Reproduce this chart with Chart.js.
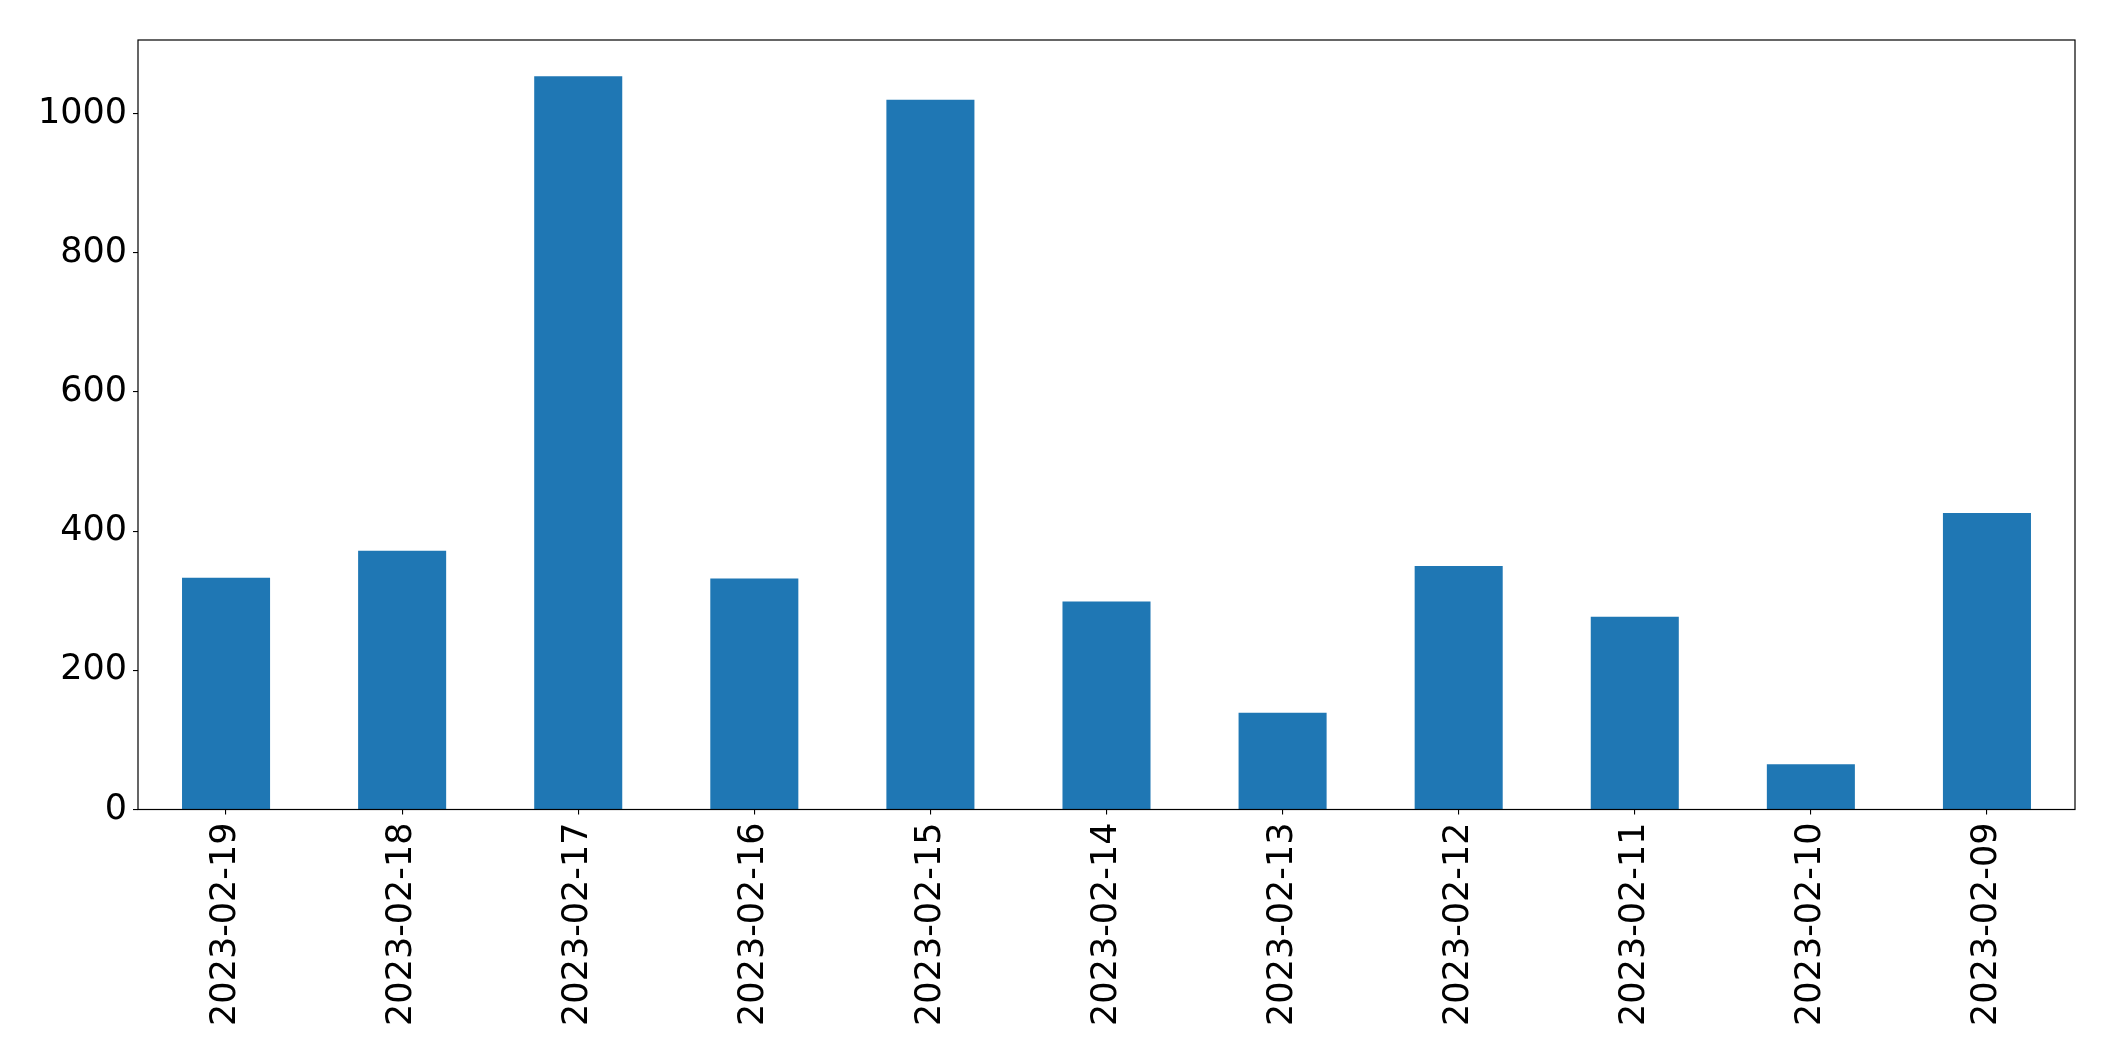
<!DOCTYPE html>
<html>
<head>
<meta charset="utf-8">
<script src="https://cdn.jsdelivr.net/npm/chart.js@4.4.1/dist/chart.umd.min.js"></script>
<style>
  html, body { margin: 0; padding: 0; background: #ffffff; }
  #wrap { width: 2115px; height: 1061px; }
</style>
</head>
<body>
<div id="wrap"><canvas id="c" width="2115" height="1061"></canvas></div>
<script>
const categories = ["2023-02-19","2023-02-18","2023-02-17","2023-02-16","2023-02-15","2023-02-14","2023-02-13","2023-02-12","2023-02-11","2023-02-10","2023-02-09"];
const values = [333, 372, 1054, 332, 1020, 299, 139, 350, 277, 65, 426];
const yTicks = [0, 200, 400, 600, 800, 1000];
const yMax = 1106;

const frame = {
  id: 'frame',
  afterDatasetsDraw(chart) {
    const a = chart.chartArea, ctx = chart.ctx;
    ctx.save();
    ctx.strokeStyle = '#000000';
    ctx.lineWidth = 1.2;
    ctx.strokeRect(a.left, a.top, a.right - a.left, a.bottom - a.top);
    ctx.restore();
  }
};

new Chart(document.getElementById('c'), {
  type: 'bar',
  data: {
    labels: categories,
    datasets: [{
      data: values,
      backgroundColor: '#1f77b4',
      borderWidth: 0,
      barPercentage: 0.5,
      categoryPercentage: 1.0
    }]
  },
  options: {
    responsive: false,
    devicePixelRatio: 1,
    animation: false,
    layout: { padding: { top: 40, right: 40, left: 0, bottom: 0 } },
    plugins: { legend: { display: false }, tooltip: { enabled: false } },
    scales: {
      x: {
        offset: true,
        grid: { display: true, drawOnChartArea: false, offset: false, tickLength: 5, color: '#000000', lineWidth: 1.1 },
        border: { display: false },
        ticks: {
          color: '#000000',
          font: { family: 'DejaVu Sans', size: 35 },
          minRotation: 90, maxRotation: 90,
          padding: 8,
          autoSkip: false
        },
        afterFit(s) { s.height = 251.5; }
      },
      y: {
        min: 0, max: yMax,
        grid: { display: true, drawOnChartArea: false, tickLength: 5, color: '#000000', lineWidth: 1.1 },
        border: { display: false },
        ticks: {
          color: '#000000',
          font: { family: 'DejaVu Sans', size: 35 },
          padding: 6,
          stepSize: 200,
          callback: (v) => String(v)
        },
        afterBuildTicks(s) { s.ticks = yTicks.map(v => ({ value: v })); },
        afterFit(s) { s.width = 138; }
      }
    }
  },
  plugins: [frame]
});
</script>
</body>
</html>
